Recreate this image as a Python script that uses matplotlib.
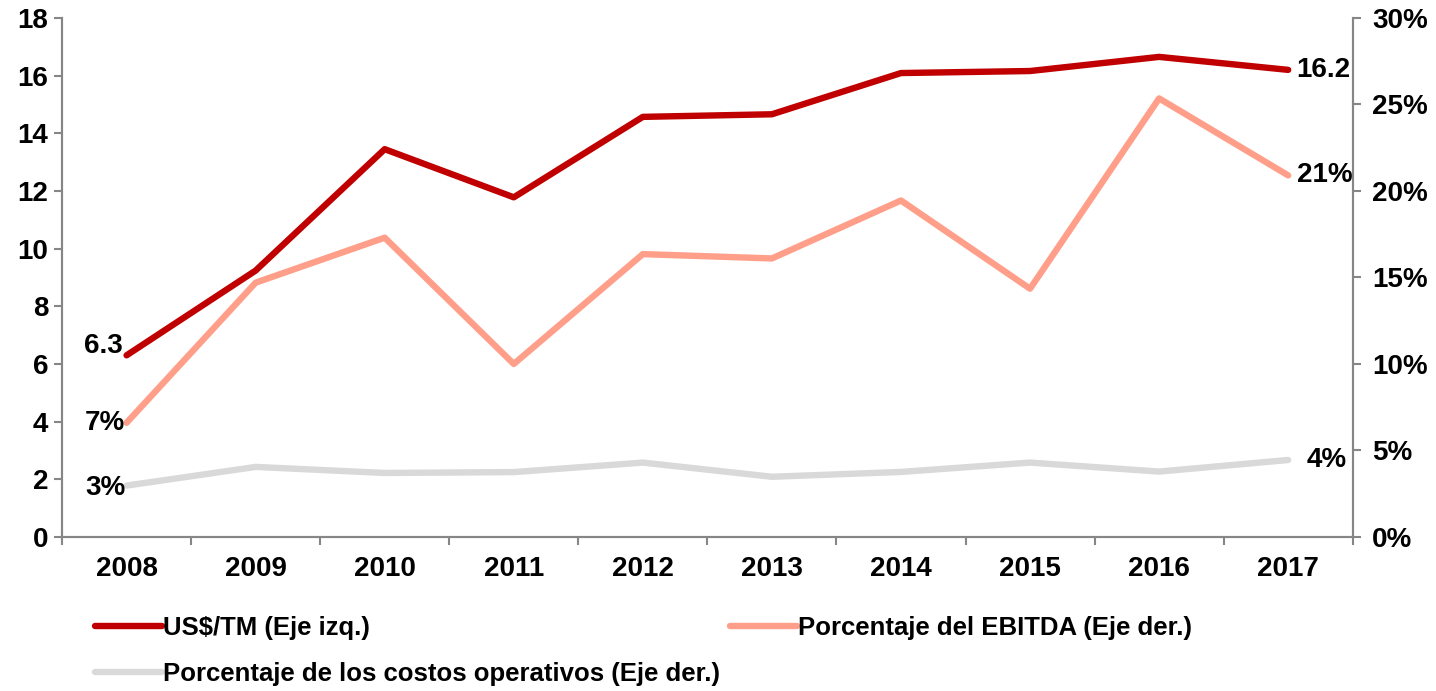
import matplotlib.pyplot as plt
from matplotlib.ticker import FuncFormatter

# Data
years = ['2008', '2009', '2010', '2011', '2012', '2013', '2014', '2015', '2016', '2017']
usd_tm = [6.3, 9.24, 13.45, 11.78, 14.57, 14.66, 16.09, 16.16, 16.65, 16.2]
ebitda_pct = [6.6, 14.7, 17.3, 10.0, 16.35, 16.1, 19.45, 14.35, 25.35, 20.9]
costos_pct = [2.97, 4.05, 3.7, 3.75, 4.3, 3.48, 3.76, 4.3, 3.78, 4.45]

RED = '#C00000'
SALMON = '#FF9F8A'
GRAY = '#D9D9D9'
SPINE = '#868686'
FS = 20

plt.rcParams['font.family'] = ['Liberation Sans', 'DejaVu Sans']
plt.rcParams['font.weight'] = 'bold'

fig = plt.figure(figsize=(14.36, 6.91), dpi=100)
ax = fig.add_axes([0.0432, 0.2229, 0.8988, 0.7511])
ax2 = ax.twinx()

x = list(range(len(years)))

# Right axis lines first so the red line sits on top
l3, = ax2.plot(x, costos_pct, color=GRAY, lw=4.6, solid_capstyle='round', zorder=2)
l2, = ax2.plot(x, ebitda_pct, color=SALMON, lw=4.6, solid_capstyle='round', zorder=3)
ax.set_zorder(ax2.get_zorder() + 1)
ax.patch.set_visible(False)
l1, = ax.plot(x, usd_tm, color=RED, lw=4.6, solid_capstyle='round', zorder=4)

ax.set_xlim(-0.5, len(years) - 0.5)
ax.set_ylim(0, 18)
ax.set_yticks(range(0, 19, 2))
ax2.set_ylim(0, 30)
ax2.set_yticks(range(0, 31, 5))
ax2.yaxis.set_major_formatter(FuncFormatter(lambda v, p: f'{v:.0f}%'))

ax.set_xticks(x)
ax.set_xticklabels(years)
ax.set_xticks([i - 0.5 for i in range(len(years) + 1)], minor=True)
ax.tick_params(axis='x', which='major', length=0, pad=14, labelsize=FS)
ax.tick_params(axis='x', which='minor', length=6, width=1.5, color=SPINE, direction='out')
ax.tick_params(axis='y', length=6, width=1.5, color=SPINE, labelsize=FS, pad=4)
ax2.tick_params(axis='y', length=6, width=1.5, color=SPINE, labelsize=FS, pad=8)

for a in (ax, ax2):
    a.spines['top'].set_visible(False)
    for s in ('left', 'right', 'bottom'):
        a.spines[s].set_color(SPINE)
        a.spines[s].set_linewidth(1.5)

# End-point labels
lab = dict(fontsize=FS, fontweight='bold', color='black')
ax.annotate(f'{usd_tm[0]:.1f}', (x[0], usd_tm[0]), xytext=(-3, 7), textcoords='offset points',
            ha='right', va='center', **lab)
ax.annotate(f'{usd_tm[-1]:.1f}', (x[-1], usd_tm[-1]), xytext=(6, 0), textcoords='offset points',
            ha='left', va='center', **lab)
ax2.annotate(f'{ebitda_pct[0]:.0f}%', (x[0], ebitda_pct[0]), xytext=(-1, 0), textcoords='offset points',
             ha='right', va='center', **lab)
ax2.annotate(f'{ebitda_pct[-1]:.0f}%', (x[-1], ebitda_pct[-1]), xytext=(6, 0), textcoords='offset points',
             ha='left', va='center', **lab)
ax2.annotate(f'{costos_pct[0]:.0f}%', (x[0], costos_pct[0]), xytext=(-1, -2), textcoords='offset points',
             ha='right', va='center', **lab)
ax2.annotate(f'{costos_pct[-1]:.0f}%', (x[-1], costos_pct[-1]), xytext=(13, 0), textcoords='offset points',
             ha='left', va='center', **lab)

# legend fills column-wise: col 1 = red + gray, col 2 = salmon
fig.legend([l1, l3, l2],
           ['US$/TM (Eje izq.)', 'Porcentaje de los costos operativos (Eje der.)',
            'Porcentaje del EBITDA (Eje der.)'],
           loc='upper left', bbox_to_anchor=(0.066, 0.108), ncol=2, frameon=False,
           fontsize=18.5, handlelength=2.6, handletextpad=0.05, columnspacing=0.4,
           labelspacing=0.85, borderaxespad=0, borderpad=0)

fig.savefig('out.png', dpi=100)
